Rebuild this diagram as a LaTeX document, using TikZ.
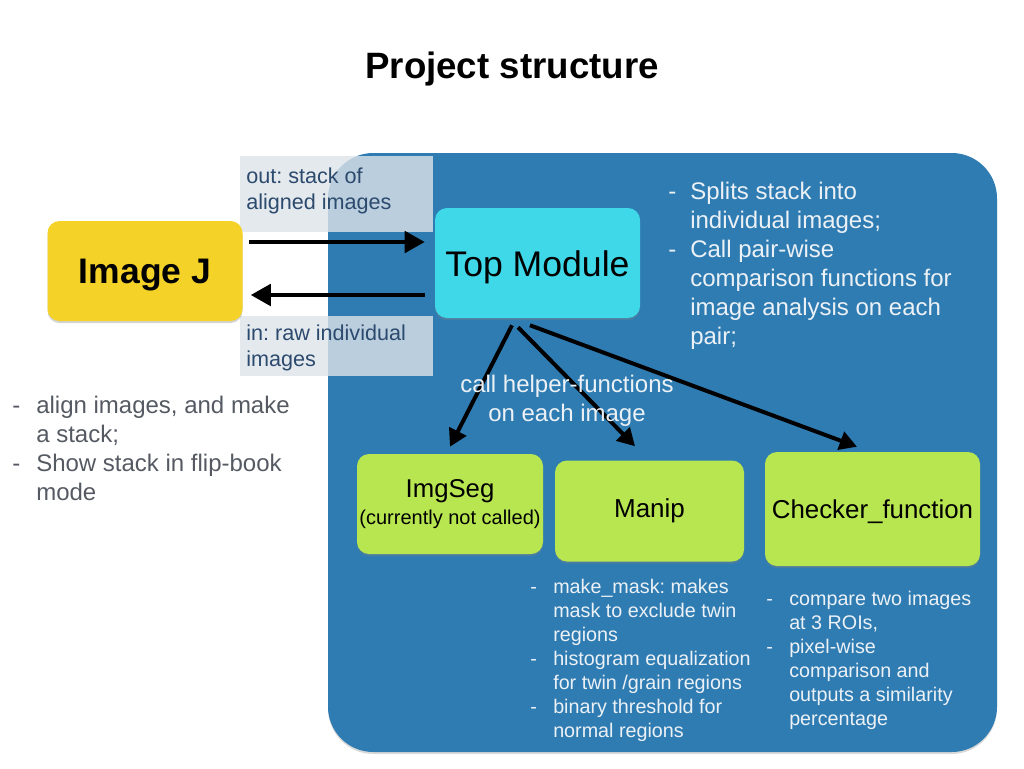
\documentclass[tikz,border=0pt]{standalone}
\usepackage{fontspec}
\setmainfont{Liberation Sans}
\usetikzlibrary{arrows.meta,shadows,calc}
\frenchspacing
\definecolor{panelblue}{RGB}{47,124,179}
\definecolor{topcyan}{RGB}{62,216,232}
\definecolor{boxgreen}{RGB}{183,230,80}
\definecolor{boxyellow}{RGB}{244,210,40}
\definecolor{lblfill}{RGB}{221,227,233}
\definecolor{lbltext}{RGB}{44,74,110}
\definecolor{leftgray}{RGB}{85,90,98}
\definecolor{paneltext}{RGB}{236,241,246}
\newcommand\mlines[1]{\vtop{\halign{##\hfil\cr#1\crcr}}}
\newcommand\clines[1]{\vtop{\halign{\hfil##\hfil\cr#1\crcr}}}
\tikzset{
  box/.style={draw=none, rounded corners=9pt, inner sep=0pt, align=center,
    drop shadow={opacity=0.35, shadow xshift=0pt, shadow yshift=-1.5pt}},
  lblbox/.style={fill=lblfill, fill opacity=0.8, draw=none, inner sep=0pt},
  lbltxt/.style={text=lbltext, anchor=base west, inner sep=0pt,
    font=\fontsize{16.2}{19.5}\selectfont},
  bigarrow/.style={line width=3pt, -{Triangle[length=15pt,width=16pt]}},
  smallarrow/.style={line width=3pt, -{Triangle[length=13pt,width=14pt]}},
  wtxt/.style={text=paneltext, anchor=base west, inner sep=0pt,
    font=\fontsize{18}{21.75}\selectfont},
  stxt/.style={text=paneltext, anchor=base west, inner sep=0pt,
    font=\fontsize{14.8}{18}\selectfont},
  ltxt/.style={text=leftgray, anchor=base west, inner sep=0pt,
    font=\fontsize{18}{21.75}\selectfont},
}
\begin{document}
\frenchspacing
\begin{tikzpicture}[x=0.75pt,y=-0.75pt]
\useasboundingbox (0,0) rectangle (1024,768);
% title
\node[font=\fontsize{27.5}{32}\selectfont\bfseries, text depth=0pt] (title) at (512,65) {Project structure};
% panel
\fill[panelblue, rounded corners=34pt,
  drop shadow={opacity=0.3, shadow xshift=0pt, shadow yshift=-1.5pt}]
  (328,153) rectangle (997,752);
% label boxes
\node[lblbox, minimum width=193*0.75pt, minimum height=76*0.75pt, anchor=north west] (outbox) at (240,156) {};
\node[lblbox, minimum width=193*0.75pt, minimum height=60*0.75pt, anchor=north west] (inbox) at (240,316) {};
\node[lbltxt] (outlbl) at (246,183) {\mlines{out: stack of\cr aligned images}};
\node[lbltxt] (inlbl) at (246,340) {\mlines{in: raw individual\cr images}};
% nodes
\node[box, fill=boxyellow, minimum width=195*0.75pt, minimum height=100*0.75pt,
  text depth=0pt, font=\fontsize{26.6}{30}\selectfont\bfseries] (imgj) at (145,271) {Image J};
\node[box, fill=topcyan, minimum width=205*0.75pt, minimum height=110*0.75pt,
  text depth=0pt, font=\fontsize{26.7}{30}\selectfont] (top) at (537.5,263) {\raisebox{-1.5pt}{Top Module}};
\node[box, fill=boxgreen, minimum width=186*0.75pt, minimum height=100*0.75pt,
  font=\fontsize{19.3}{21}\selectfont] (img) at (450,504)
  {ImgSeg\\[-1pt]{\fontsize{15}{17}\selectfont (currently not called)}};
\node[box, fill=boxgreen, minimum width=189*0.75pt, minimum height=101*0.75pt,
  text depth=0pt, font=\fontsize{19.5}{21}\selectfont] (manip) at (649.5,511) {\raisebox{4.5pt}{Manip}};
\node[box, fill=boxgreen, minimum width=215*0.75pt, minimum height=114*0.75pt,
  text depth=0pt, font=\fontsize{19.4}{21}\selectfont] (check) at (872.5,509) {Checker\_function};
% arrows
\draw[bigarrow] ([shift={(6,-29)}]imgj.east) -- ([shift={(-10,-21)}]top.west);
\draw[bigarrow] ([shift={(-10,32)}]top.west) -- ([shift={(8,24)}]imgj.east);
\draw[smallarrow] ([shift={(-25.5,7)}]top.south) -- ([shift={(0,-7)}]img.north);
\draw[smallarrow] ([shift={(-19.5,9)}]top.south) -- ([shift={(-14.5,-14)}]manip.north);
\draw[smallarrow] ([shift={(-7.5,7)}]top.south) -- ([shift={(-15.5,-5)}]check.north);
% call helper text
\node[text=paneltext, inner sep=0pt, anchor=base,
  font=\fontsize{18}{21.75}\selectfont] (helper) at (567,392)
  {\clines{call helper-functions\cr on each image}};
% right text
\node[wtxt] (rd1) at (668,199) {-};
\node[wtxt] (rt1) at (690,199) {\mlines{Splits stack into\cr individual images;}};
\node[wtxt] (rd2) at (668,257) {-};
\node[wtxt] (rt2) at (690,257) {\mlines{Call pair-wise\cr comparison functions for\cr image analysis on each\cr pair;}};
% left text
\node[ltxt] (ld1) at (12,413) {-};
\node[ltxt] (lt1) at (36,413) {\mlines{align images, and make\cr a stack;}};
\node[ltxt] (ld2) at (12,471) {-};
\node[ltxt] (lt2) at (36,471) {\mlines{Show stack in flip-book\cr mode}};
% manip bullets
\node[stxt] (md1) at (530,593) {-};
\node[stxt] (mt1) at (553,593) {\mlines{make\_mask: makes\cr mask to exclude twin\cr regions}};
\node[stxt] (md2) at (530,665) {-};
\node[stxt] (mt2) at (553,665) {\mlines{histogram equalization\cr for twin /grain regions}};
\node[stxt] (md3) at (530,713) {-};
\node[stxt] (mt3) at (553,713) {\mlines{binary threshold for\cr normal regions}};
% checker bullets
\node[stxt] (cd1) at (766,605) {-};
\node[stxt] (ct1) at (789,605) {\mlines{compare two images\cr at 3 ROIs,}};
\node[stxt] (cd2) at (766,653) {-};
\node[stxt] (ct2) at (789,653) {\mlines{pixel-wise\cr comparison and\cr outputs a similarity\cr percentage}};
\end{tikzpicture}
\end{document}
